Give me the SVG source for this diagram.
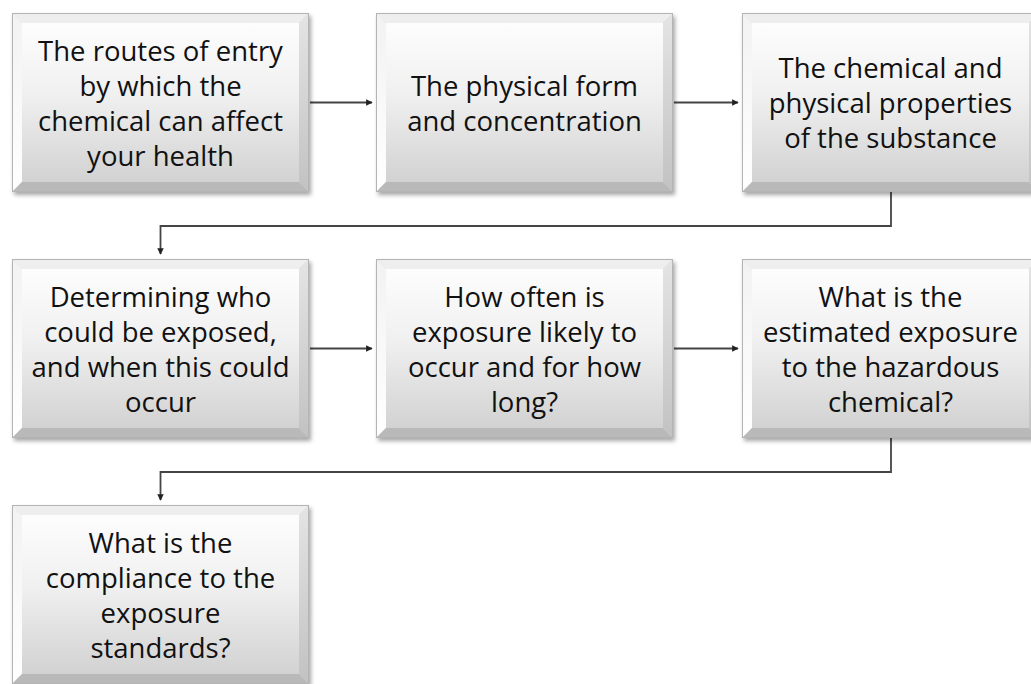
<svg xmlns="http://www.w3.org/2000/svg" xmlns:xlink="http://www.w3.org/1999/xlink" width="1031" height="684" viewBox="0 0 1031 684">
  <style>
    .lbl { font-family: "Open Sans", "Noto Sans", "Liberation Sans", sans-serif; font-size: 27.5px; fill: #111; text-anchor: middle; }
    .conn { fill: none; stroke: #454545; stroke-width: 1.8; }
  </style>
  <defs>
    <linearGradient id="face" x1="0" y1="0" x2="0" y2="1">
      <stop offset="0" stop-color="#fdfdfd"/>
      <stop offset="0.45" stop-color="#f0f0f0"/>
      <stop offset="1" stop-color="#d2d2d2"/>
    </linearGradient>
    <linearGradient id="leftBev" x1="0" y1="0" x2="0" y2="1">
      <stop offset="0" stop-color="#f2f2f2"/>
      <stop offset="1" stop-color="#ffffff"/>
    </linearGradient>
    <linearGradient id="rightBev" x1="0" y1="0" x2="0" y2="1">
      <stop offset="0" stop-color="#e4e4e4"/>
      <stop offset="1" stop-color="#c2c2c2"/>
    </linearGradient>
    <filter id="shadow" x="-5%" y="-5%" width="112%" height="115%">
      <feDropShadow dx="2" dy="3" stdDeviation="2" flood-color="#000" flood-opacity="0.35"/>
    </filter>
    <g id="frame">
      <rect x="0" y="0" width="297" height="179" fill="#d8d8d8" filter="url(#shadow)"/>
      <rect x="10" y="10" width="277" height="159" fill="url(#face)"/>
      <polygon points="0,0 297,0 287,10 10,10" fill="#eeeeee"/>
      <polygon points="0,0 10,10 10,169 0,179" fill="url(#leftBev)"/>
      <polygon points="297,0 297,179 287,169 287,10" fill="url(#rightBev)"/>
      <polygon points="0,179 10,169 287,169 297,179" fill="#b9b9b9"/>
      <rect x="0.5" y="0.5" width="296" height="178" fill="none" stroke="#b4b4b4" stroke-width="1"/>
    </g>
    <marker id="arr" viewBox="0 0 10 10" refX="9" refY="5" markerWidth="6.5" markerHeight="6.5" orient="auto" markerUnits="userSpaceOnUse">
      <path d="M0,0 L10,5 L0,10 Z" fill="#222"/>
    </marker>
  </defs>
  <rect width="1031" height="684" fill="#ffffff"/>

  <g id="connectors">
    <line class="conn" x1="310" y1="102.5" x2="372" y2="102.5" marker-end="url(#arr)"/>
    <line class="conn" x1="674" y1="102.5" x2="738" y2="102.5" marker-end="url(#arr)"/>
    <polyline class="conn" points="891,192 891,226 160.5,226 160.5,254" marker-end="url(#arr)"/>
    <line class="conn" x1="310" y1="348.5" x2="372" y2="348.5" marker-end="url(#arr)"/>
    <line class="conn" x1="674" y1="348.5" x2="738" y2="348.5" marker-end="url(#arr)"/>
    <polyline class="conn" points="891,438 891,472 160.5,472 160.5,500" marker-end="url(#arr)"/>
  </g>

  <g id="node1" transform="translate(12,13)">
    <use xlink:href="#frame" href="#frame"/>
    <text class="lbl" x="148.5" y="48">The routes of entry</text>
    <text class="lbl" x="148.5" y="83">by which the</text>
    <text class="lbl" x="148.5" y="118">chemical can affect</text>
    <text class="lbl" x="148.5" y="153">your health</text>
  </g>
  <g id="node2" transform="translate(376,13)">
    <use xlink:href="#frame" href="#frame"/>
    <text class="lbl" x="148.5" y="83">The physical form</text>
    <text class="lbl" x="148.5" y="118">and concentration</text>
  </g>
  <g id="node3" transform="translate(742,13)">
    <use xlink:href="#frame" href="#frame"/>
    <text class="lbl" x="148.5" y="65">The chemical and</text>
    <text class="lbl" x="148.5" y="100">physical properties</text>
    <text class="lbl" x="148.5" y="135">of the substance</text>
  </g>

  <g id="node4" transform="translate(12,259)">
    <use xlink:href="#frame" href="#frame"/>
    <text class="lbl" x="148.5" y="48">Determining who</text>
    <text class="lbl" x="148.5" y="83">could be exposed,</text>
    <text class="lbl" x="148.5" y="118">and when this could</text>
    <text class="lbl" x="148.5" y="153">occur</text>
  </g>
  <g id="node5" transform="translate(376,259)">
    <use xlink:href="#frame" href="#frame"/>
    <text class="lbl" x="148.5" y="48">How often is</text>
    <text class="lbl" x="148.5" y="83">exposure likely to</text>
    <text class="lbl" x="148.5" y="118">occur and for how</text>
    <text class="lbl" x="148.5" y="153">long?</text>
  </g>
  <g id="node6" transform="translate(742,259)">
    <use xlink:href="#frame" href="#frame"/>
    <text class="lbl" x="148.5" y="48">What is the</text>
    <text class="lbl" x="148.5" y="83">estimated exposure</text>
    <text class="lbl" x="148.5" y="118">to the hazardous</text>
    <text class="lbl" x="148.5" y="153">chemical?</text>
  </g>

  <g id="node7" transform="translate(12,505)">
    <use xlink:href="#frame" href="#frame"/>
    <text class="lbl" x="148.5" y="48">What is the</text>
    <text class="lbl" x="148.5" y="83">compliance to the</text>
    <text class="lbl" x="148.5" y="118">exposure</text>
    <text class="lbl" x="148.5" y="153">standards?</text>
  </g>
</svg>
